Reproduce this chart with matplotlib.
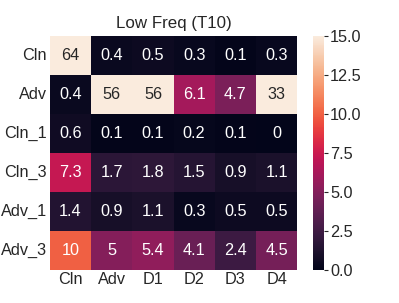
import matplotlib
matplotlib.use("Agg")
import matplotlib.pyplot as plt
import seaborn as sns
import numpy as np

rows = ["Cln", "Adv", "Cln_1", "Cln_3", "Adv_1", "Adv_3"]
cols = ["Cln", "Adv", "D1", "D2", "D3", "D4"]
r_cln = [64, 0.4, 0.5, 0.3, 0.1, 0.3]
r_adv = [0.4, 56, 56, 6.1, 4.7, 33]
r_cln1 = [0.6, 0.1, 0.1, 0.2, 0.1, 0]
r_cln3 = [7.3, 1.7, 1.8, 1.5, 0.9, 1.1]
r_adv1 = [1.4, 0.9, 1.1, 0.3, 0.5, 0.5]
r_adv3 = [10, 5, 5.4, 4.1, 2.4, 4.5]
title = "Low Freq (T10)"

sns.set_theme(style="white")
plt.rcParams['font.family'] = ['Liberation Sans', 'DejaVu Sans']
fs = 11.7

data = np.array([r_cln, r_adv, r_cln1, r_cln3, r_adv1, r_adv3])
fig = plt.figure(figsize=(3.99, 3.03), dpi=100)
ax = fig.add_subplot(111)
sns.heatmap(data, ax=ax, cmap="rocket", vmin=0, vmax=15, annot=True, fmt="g",
            annot_kws={"fontsize": fs}, xticklabels=cols, yticklabels=rows)
ax.set_title(title, fontsize=12.2)
ax.tick_params(axis='both', labelsize=fs, length=0, pad=2)
ax.set_yticklabels(rows, rotation=0)
cbar = ax.collections[0].colorbar
cbar.ax.tick_params(labelsize=fs, length=3, width=0.8, pad=1)
fig.savefig("out.png", dpi=100)
